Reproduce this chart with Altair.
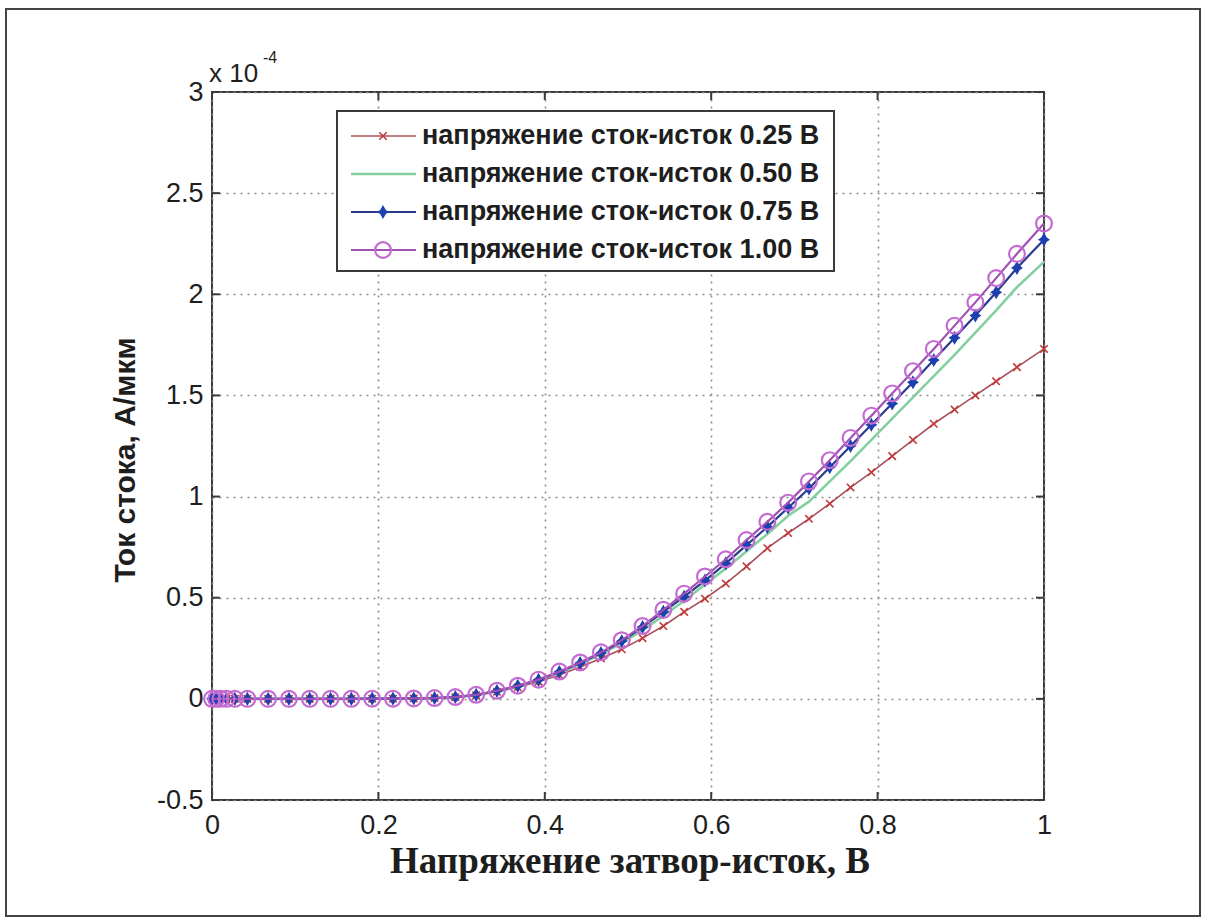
import altair as alt
import pandas as pd

# ---------------- data ----------------
labels = [
    "напряжение сток-исток 0.25 В",
    "напряжение сток-исток 0.50 В",
    "напряжение сток-исток 0.75 В",
    "напряжение сток-исток 1.00 В",
]

vgs = [0, 0.005, 0.01, 0.0175, 0.0275,
       0.0425, 0.0675, 0.0925, 0.1175, 0.1425, 0.1675, 0.1925, 0.2175, 0.2425, 0.2675,
       0.2925, 0.3175, 0.3425, 0.3675, 0.3925, 0.4175, 0.4425, 0.4675, 0.4925, 0.5175,
       0.5425, 0.5675, 0.5925, 0.6175, 0.6425, 0.6675, 0.6925, 0.7175, 0.7425, 0.7675,
       0.7925, 0.8175, 0.8425, 0.8675, 0.8925, 0.9175, 0.9425, 0.9675, 1.0]

id_025 = [0, 0, 0, 0, 0, 0, 0, 0, 0, 0, 0, 0.001, 0.001, 0.002, 0.004,
          0.008, 0.018, 0.035, 0.057, 0.085, 0.118, 0.157, 0.20, 0.245, 0.30,
          0.36, 0.43, 0.495, 0.57, 0.655, 0.745, 0.82, 0.89, 0.965, 1.045,
          1.12, 1.20, 1.28, 1.36, 1.43, 1.50, 1.57, 1.64, 1.73]
id_050 = [0, 0, 0, 0, 0, 0, 0, 0, 0, 0, 0, 0.001, 0.001, 0.002, 0.004,
          0.009, 0.019, 0.038, 0.062, 0.092, 0.13, 0.172, 0.22, 0.277, 0.34,
          0.41, 0.485, 0.565, 0.645, 0.73, 0.815, 0.905, 0.975, 1.075, 1.175,
          1.28, 1.385, 1.49, 1.595, 1.70, 1.81, 1.92, 2.035, 2.16]
id_075 = [0, 0, 0, 0, 0, 0, 0, 0, 0, 0, 0, 0.001, 0.001, 0.002, 0.004,
          0.009, 0.02, 0.039, 0.064, 0.094, 0.133, 0.177, 0.226, 0.285, 0.355,
          0.43, 0.505, 0.585, 0.67, 0.76, 0.85, 0.945, 1.04, 1.145, 1.25,
          1.355, 1.46, 1.565, 1.675, 1.785, 1.895, 2.01, 2.13, 2.27]
id_100 = [0, 0, 0, 0, 0, 0, 0, 0, 0, 0, 0, 0.001, 0.001, 0.002, 0.004,
          0.009, 0.02, 0.04, 0.065, 0.095, 0.135, 0.18, 0.23, 0.29, 0.36,
          0.44, 0.52, 0.605, 0.69, 0.785, 0.875, 0.97, 1.075, 1.18, 1.29,
          1.40, 1.51, 1.62, 1.73, 1.845, 1.96, 2.08, 2.20, 2.35]

x_ticks = [0, 0.2, 0.4, 0.6, 0.8, 1]
y_ticks = [-0.5, 0, 0.5, 1, 1.5, 2, 2.5, 3]

x_title = ["Напряжение затвор-исток, В"]
y_title = ["Ток стока, А/мкм"]
exp_text = ["x 10", "-4"]

# ---------------- build table ----------------
series_vals = [id_025, id_050, id_075, id_100]
rows = []
for lab, vals in zip(labels, series_vals):
    for xv, yv in zip(vgs, vals):
        rows.append({"vgs": xv, "id": yv, "series": lab})
df = pd.DataFrame(rows)

# ---------------- geometry / style ----------------
W, H = 832, 708
PAD = {"left": 212, "top": 92, "right": 1207 - 212 - W, "bottom": 924 - 92 - H}
AX = "#3a3a3a"
TXT = "#1e1e1e"

xscale = alt.Scale(domain=[0, 1], nice=False, zero=False)
yscale = alt.Scale(domain=[-0.5, 3], nice=False, zero=False)

xaxis = alt.Axis(values=x_ticks, labelExpr="'' + datum.value", grid=True,
                 gridDash=[2, 5], gridColor="#8c8c8c", gridWidth=1.6,
                 ticks=False, domain=False, labelFontSize=27,
                 labelFont="Liberation Sans", labelColor=TXT, labelPadding=12,
                 title=None, labelFlush=False, labelOverlap=False)
yaxis = alt.Axis(values=y_ticks, labelExpr="'' + datum.value", grid=True,
                 gridDash=[2, 5], gridColor="#8c8c8c", gridWidth=1.6,
                 ticks=False, domain=False, labelFontSize=27,
                 labelFont="Liberation Sans", labelColor=TXT, labelPadding=9,
                 title=None, labelFlush=False, labelOverlap=False)

X = alt.X("vgs:Q", scale=xscale, axis=xaxis)
Y = alt.Y("id:Q", scale=yscale, axis=yaxis)

base = alt.Chart(df)

line_style = [
    dict(color="#a8505a", strokeWidth=1.6),
    dict(color="#84cf9f", strokeWidth=2.6),
    dict(color="#2a3a8c", strokeWidth=2.2),
    dict(color="#a050b2", strokeWidth=2.2),
]
cross_path = "M-1,-1L1,1M-1,1L1,-1"
star_path = "M0,-1L0.4,-0.3L0.85,0L0.4,0.3L0,1L-0.4,0.3L-0.85,0L-0.4,-0.3Z"
marker_style = [
    dict(shape=cross_path, filled=False, stroke="#c03a3a", strokeWidth=1.6, size=55, opacity=1),
    None,
    dict(shape=star_path, filled=True, color="#1c40b0", size=200, opacity=1),
    dict(shape="circle", filled=False, stroke="#c46bd2", strokeWidth=2.2, size=250, opacity=1),
]

layers = []

# inward ticks on all four sides
tx = alt.Chart(pd.DataFrame({"t": x_ticks}))
ty = alt.Chart(pd.DataFrame({"t": y_ticks}))
layers.append(tx.mark_rule(color=AX, strokeWidth=2).encode(
    x=alt.X("t:Q", scale=xscale, axis=xaxis), y=alt.value(H - 8), y2=alt.value(H)))
layers.append(tx.mark_rule(color=AX, strokeWidth=2).encode(
    x=alt.X("t:Q", scale=xscale, axis=xaxis), y=alt.value(0), y2=alt.value(8)))
layers.append(ty.mark_rule(color=AX, strokeWidth=2).encode(
    y=alt.Y("t:Q", scale=yscale, axis=yaxis), x=alt.value(0), x2=alt.value(8)))
layers.append(ty.mark_rule(color=AX, strokeWidth=2).encode(
    y=alt.Y("t:Q", scale=yscale, axis=yaxis), x=alt.value(W - 8), x2=alt.value(W)))

# data series (drawn in MATLAB order)
for i, lab in enumerate(labels):
    sub = base.transform_filter(alt.datum.series == lab)
    layers.append(sub.mark_line(**line_style[i]).encode(x=X, y=Y))
    if marker_style[i] is not None:
        layers.append(sub.mark_point(**marker_style[i]).encode(x=X, y=Y))

# legend (box, samples, labels)
leg = alt.Chart(pd.DataFrame({"label": labels, "row": [0, 1, 2, 3]}))
layers.append(leg.transform_filter(alt.datum.row == 0).mark_rect(
    fill="white", stroke=AX, strokeWidth=2).encode(
    x=alt.value(125), x2=alt.value(622), y=alt.value(19), y2=alt.value(179)))
for i, lab in enumerate(labels):
    ly = 44 + 38 * i
    one = leg.transform_filter(alt.datum.row == i)
    layers.append(one.mark_rule(**line_style[i]).encode(
        x=alt.value(139), x2=alt.value(204), y=alt.value(ly)))
    if marker_style[i] is not None:
        layers.append(one.mark_point(**marker_style[i]).encode(
            x=alt.value(171), y=alt.value(ly)))
    layers.append(one.mark_text(align="left", baseline="middle", font="Liberation Sans",
                                fontWeight="bold", fontSize=27, color=TXT).encode(
        x=alt.value(210), y=alt.value(ly), text="label:N"))

# axis titles and exponent
layers.append(alt.Chart(pd.DataFrame({"t": y_title})).mark_text(
    angle=270, align="center", baseline="middle", font="Liberation Sans",
    fontWeight="bold", fontSize=30, color=TXT).encode(
    x=alt.value(-86), y=alt.value(368), text="t:N"))
layers.append(alt.Chart(pd.DataFrame({"t": x_title})).mark_text(
    align="center", baseline="middle", font="Liberation Serif",
    fontWeight="bold", fontSize=37, color=TXT).encode(
    x=alt.value(418), y=alt.value(770), text="t:N"))
layers.append(alt.Chart(pd.DataFrame({"t": exp_text[:1]})).mark_text(
    align="left", baseline="alphabetic", font="Liberation Sans",
    fontSize=26, color=TXT).encode(x=alt.value(-3), y=alt.value(-10), text="t:N"))
layers.append(alt.Chart(pd.DataFrame({"t": exp_text[1:]})).mark_text(
    align="left", baseline="alphabetic", font="Liberation Sans",
    fontSize=16, color=TXT).encode(x=alt.value(51), y=alt.value(-29), text="t:N"))

# outer frame
layers.append(alt.Chart(pd.DataFrame({"t": [0]})).mark_rect(
    fill="transparent", stroke="#444444", strokeWidth=2).encode(
    x=alt.value(-206), x2=alt.value(988), y=alt.value(-83), y2=alt.value(824)))

chart = alt.layer(*layers).properties(
    width=W, height=H, padding=PAD,
    autosize=alt.AutoSizeParams(type="none"),
    background="white",
).configure_view(stroke=AX, strokeWidth=2)

chart.save("out.html", embed_options={"renderer": "svg", "actions": False})
